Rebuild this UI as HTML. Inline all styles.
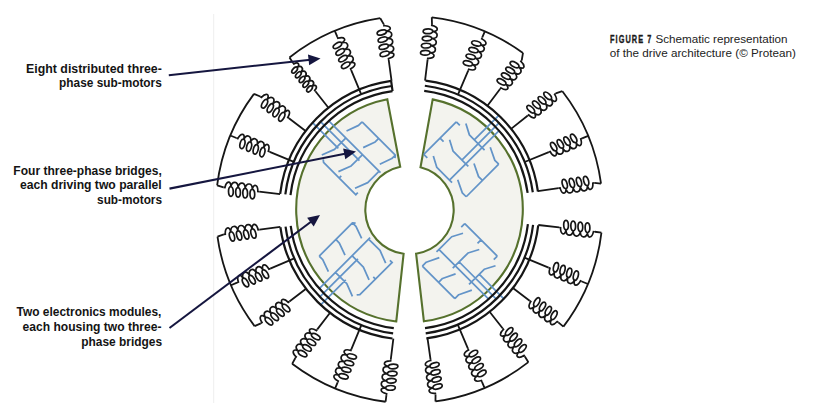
<!DOCTYPE html>
<html><head><meta charset="utf-8"><style>
html,body{margin:0;padding:0;background:#fff;}
body{width:820px;height:414px;overflow:hidden;position:relative;}
svg{position:absolute;left:0;top:0;}
.dg{filter:blur(0.3px);}
.lb{font-family:"Liberation Sans",sans-serif;font-weight:bold;font-size:13.2px;fill:#141414;}
.cp{font-family:"Liberation Sans",sans-serif;font-size:10.6px;fill:#222;}
.cpb{font-family:"Liberation Sans",sans-serif;font-weight:bold;font-size:10.8px;fill:#1a1a1a;stroke:#1a1a1a;stroke-width:0.35px;}
</style></head><body>
<svg width="820" height="414" viewBox="0 0 820 414">
<g class="dg">
<line x1="213.6" y1="14" x2="213.6" y2="403" stroke="#f1f1f1" stroke-width="1.2"/>
<path d="M387.3,99.18 A113.3,112.6 0 0 0 396.28,321.43 L403.6,253.8 A44.2,44.2 0 0 1 400.2,166.79 Z" fill="#f3f3ee" stroke="#56712d" stroke-width="2.1" stroke-linejoin="miter"/>
<path d="M432.67,99.38 A113.3,112.6 0 0 1 423.9,321.29 L416.1,253.7 A44.2,44.2 0 0 0 420.5,167.19 Z" fill="#f3f3ee" stroke="#56712d" stroke-width="2.1" stroke-linejoin="miter"/>
<path d="M362.1,121.8 L395.33,155.03 L394.98,158.22 M362.1,121.8 L358.56,125.34 L346.54,130.99 M378.72,138.42 L375.18,141.95 L363.16,147.61 M395.33,155.03 L391.8,158.57 L379.78,164.23 M346.19,137.71 L334.52,149.38 L321.8,155.03 M362.81,154.33 L351.14,165.99 L338.41,171.65 M379.42,170.94 L367.76,182.61 L355.03,188.27 M323.21,159.28 L323.56,162.46 L356.44,195.34 M339.12,178.01 L341.24,175.89 M355.74,194.63 L357.86,192.51 M380.48,172.71 L328.25,120.48 M359.41,160.55 L320.02,121.16 M338.34,148.39 L312.01,122.06" fill="none" stroke="#6394c8" stroke-width="1.75" stroke-linecap="butt" stroke-linejoin="round"/>
<path d="M319.2,256.1 L352.43,222.87 L355.62,223.22 M319.2,256.1 L322.74,259.64 L328.39,271.66 M335.82,239.48 L339.35,243.02 L345.01,255.04 M352.43,222.87 L355.97,226.4 L361.63,238.42 M335.11,272.01 L346.78,283.68 L352.43,296.4 M351.73,255.39 L363.39,267.06 L369.05,279.79 M368.34,238.78 L380.01,250.44 L385.67,263.17 M356.68,294.99 L359.86,294.64 L392.74,261.76 M375.41,279.08 L373.29,276.96 M392.03,262.46 L389.91,260.34 M370.11,237.72 L318.75,289.07 M357.95,258.79 L319.36,297.37 M345.79,279.86 L320.2,305.45" fill="none" stroke="#6394c8" stroke-width="1.75" stroke-linecap="butt" stroke-linejoin="round"/>
<path d="M456.3,121.8 L423.77,154.33 M456.3,121.8 L459.84,125.34 M465.85,123.57 L469.38,134.88 L481.76,147.26 M440.04,138.06 L443.57,141.6 M449.58,139.83 L453.12,151.14 L465.49,163.52 M423.77,154.33 L427.31,157.86 M433.32,156.09 L436.85,167.41 L449.23,179.78 M481.76,147.26 L484.58,150.08 M490.24,147.26 L494.84,160.34 L498.73,164.23 M465.49,163.52 L468.32,166.35 M473.98,163.52 L478.57,176.6 L482.46,180.49 M449.23,179.78 L452.06,182.61 M457.71,179.78 L462.31,192.86 L466.2,196.75 M498.73,164.23 L466.2,196.75 M449.23,180.49 L499.62,130.1 M461.6,160.34 L499.57,122.37 M473.98,140.18 L499.34,114.82" fill="none" stroke="#6394c8" stroke-width="1.75" stroke-linecap="butt" stroke-linejoin="round"/>
<path d="M497.3,256.2 L464.77,223.67 M497.3,256.2 L493.76,259.74 M495.53,265.75 L484.22,269.28 L471.84,281.66 M481.04,239.94 L477.5,243.47 M479.27,249.48 L467.96,253.02 L455.58,265.39 M464.77,223.67 L461.24,227.21 M463.01,233.22 L451.69,236.75 L439.32,249.13 M471.84,281.66 L469.02,284.48 M471.84,290.14 L458.76,294.74 L454.87,298.63 M455.58,265.39 L452.75,268.22 M455.58,273.88 L442.5,278.47 L438.61,282.36 M439.32,249.13 L436.49,251.96 M439.32,257.61 L426.24,262.21 L422.35,266.1 M454.87,298.63 L422.35,266.1 M438.61,249.13 L489.13,299.64 M458.76,261.5 L496.83,299.58 M478.92,273.88 L504.37,299.33" fill="none" stroke="#6394c8" stroke-width="1.75" stroke-linecap="butt" stroke-linejoin="round"/>
<path d="M392.55,91.16 A119.6,119.6 0 0 0 290.49,195.02 M391.83,86.01 A124.8,124.8 0 0 0 285.33,194.39 M391.11,80.87 A130,130 0 0 0 280.17,193.76 M290.71,225.83 A119.6,119.6 0 0 0 393.8,328.2 M285.55,226.54 A124.8,124.8 0 0 0 393.13,333.36 M280.4,227.24 A130,130 0 0 0 392.46,338.52 M424.19,90.94 A119.6,119.6 0 0 1 527.64,192.95 M424.84,85.78 A124.8,124.8 0 0 1 532.79,192.23 M425.49,80.63 A130,130 0 0 1 537.93,191.51 M527.91,224.18 A119.6,119.6 0 0 1 425.02,328.15 M533.07,224.81 A124.8,124.8 0 0 1 425.71,333.3 M538.23,225.44 A130,130 0 0 1 426.39,338.46 M392.55,91.16 L391.11,80.87" fill="none" stroke="#161616" stroke-width="2.2"/>
<path d="M289.48,57.46 A193.6,193.6 0 0 1 380.25,18.18 M289.48,57.46 L293.05,63.05 M315.41,91.26 L328.45,107.72 M334.8,30.87 L337.34,36.96 M351.17,70.2 L361.24,94.38 M380.25,18.18 L383.82,24.33 M388.71,60 L391.56,80.8 M253.98,93.9 A193.6,193.6 0 0 0 217.13,185.34 M253.98,93.9 L260.25,96.54 M288.92,118.31 L305.65,131 M230.34,135.51 L236.43,138.04 M269.69,151.81 L293.9,161.84 M217.13,185.34 L223.52,187.46 M259.26,191.72 L280.11,194.21 M217.48,236.54 A193.6,193.6 0 0 0 254.58,326.11 M217.48,236.54 L223.84,234.33 M259.53,229.57 L280.34,226.79 M230.99,285.25 L237.07,282.67 M270.2,268.6 L294.32,258.36 M254.58,326.11 L260.84,323.44 M289.4,301.52 L306.06,288.74 M292.15,363.81 A193.6,193.6 0 0 0 385.61,401.76 M292.15,363.81 L295.36,357.96 M317.28,329.4 L330.06,312.74 M335.11,388.46 L337.64,382.37 M351.41,349.11 L361.44,324.9 M385.61,401.76 L386.41,395.21 M390.8,359.47 L393.36,338.63 M431.79,17.32 A193.6,193.6 0 0 1 523,52.97 M431.79,17.32 L431.99,23.99 M427.6,59.73 L425.04,80.57 M484.85,31.39 L482.27,37.47 M468.2,70.6 L457.96,94.72 M523,52.97 L521.74,60.26 M500.07,89.01 L487.44,105.78 M562.38,91.21 A193.6,193.6 0 0 1 601.05,183.66 M562.38,91.21 L555.75,93.45 M527.54,115.81 L511.08,128.85 M588.19,135.82 L582.09,138.34 M548.81,152.06 L524.58,162.04 M601.05,183.66 L594.29,182.93 M558.66,188.06 L537.87,191.06 M601.44,232.52 A193.6,193.6 0 0 1 563.41,326.65 M601.44,232.52 L594.88,231.74 M559.14,227.48 L538.29,224.99 M587.93,284 L581.84,281.46 M548.6,267.63 L524.42,257.56 M563.41,326.65 L558.35,322.4 M529.64,300.68 L512.89,288.02 M528.39,362.16 A193.6,193.6 0 0 1 435.47,401.41 M528.39,362.16 L524.84,356.56 M502.58,328.26 L489.59,311.76 M484.53,387.94 L481.97,381.86 M467.96,348.7 L457.76,324.56 M435.47,401.41 L435.55,394.73 M430.48,359.09 L427.52,338.3" fill="none" stroke="#161616" stroke-width="1.8" stroke-linejoin="round"/>
<g fill="none" stroke="#161616" stroke-width="1.7"><path transform="translate(293.05,63.05) rotate(51.6)" d="M0,0 L1.2,0 C1.8,-4.59 5.4,-5.4 6,-0.5 C8.66,-0.5 9.66,6.8 7,6.8 C4.34,6.8 3.34,-0.5 6,-0.5 C6.6,-5.4 11.4,-5.4 12,-0.5 C14.66,-0.5 15.66,6.8 13,6.8 C10.34,6.8 9.34,-0.5 12,-0.5 C12.6,-5.4 17.4,-5.4 18,-0.5 C20.66,-0.5 21.66,6.8 19,6.8 C16.34,6.8 15.34,-0.5 18,-0.5 C18.6,-5.4 23.4,-5.4 24,-0.5 C26.66,-0.5 27.66,6.8 25,6.8 C22.34,6.8 21.34,-0.5 24,-0.5 C24.6,-5.4 29.4,-5.4 30,-0.5 C32.66,-0.5 33.66,6.8 31,6.8 C28.34,6.8 27.34,-0.5 30,-0.5 C30.6,-5.4 34.2,-4.59 34.8,0 L36,0"/><path transform="translate(337.34,36.96) rotate(67.4)" d="M0,0 L1.44,0 C2.04,-6.88 6.6,-8.1 7.2,-1.6 C10.39,-1.6 11.59,7.9 8.4,7.9 C5.21,7.9 4.01,-1.6 7.2,-1.6 C7.8,-8.1 13.8,-8.1 14.4,-1.6 C17.59,-1.6 18.79,7.9 15.6,7.9 C12.41,7.9 11.21,-1.6 14.4,-1.6 C15,-8.1 21,-8.1 21.6,-1.6 C24.79,-1.6 25.99,7.9 22.8,7.9 C19.61,7.9 18.41,-1.6 21.6,-1.6 C22.2,-8.1 28.2,-8.1 28.8,-1.6 C31.99,-1.6 33.19,7.9 30,7.9 C26.81,7.9 25.61,-1.6 28.8,-1.6 C29.4,-8.1 33.96,-6.88 34.56,0 L36,0"/><path transform="translate(383.82,24.33) rotate(82.2)" d="M0,0 L1.44,0 C2.04,-6.88 6.6,-8.1 7.2,-1.6 C10.39,-1.6 11.59,7.9 8.4,7.9 C5.21,7.9 4.01,-1.6 7.2,-1.6 C7.8,-8.1 13.8,-8.1 14.4,-1.6 C17.59,-1.6 18.79,7.9 15.6,7.9 C12.41,7.9 11.21,-1.6 14.4,-1.6 C15,-8.1 21,-8.1 21.6,-1.6 C24.79,-1.6 25.99,7.9 22.8,7.9 C19.61,7.9 18.41,-1.6 21.6,-1.6 C22.2,-8.1 28.2,-8.1 28.8,-1.6 C31.99,-1.6 33.19,7.9 30,7.9 C26.81,7.9 25.61,-1.6 28.8,-1.6 C29.4,-8.1 33.96,-6.88 34.56,0 L36,0"/><path transform="translate(260.25,96.54) rotate(37.2)" d="M0,0 L1.44,0 C2.04,-6.88 6.6,-8.1 7.2,-1.6 C10.39,-1.6 11.59,7.9 8.4,7.9 C5.21,7.9 4.01,-1.6 7.2,-1.6 C7.8,-8.1 13.8,-8.1 14.4,-1.6 C17.59,-1.6 18.79,7.9 15.6,7.9 C12.41,7.9 11.21,-1.6 14.4,-1.6 C15,-8.1 21,-8.1 21.6,-1.6 C24.79,-1.6 25.99,7.9 22.8,7.9 C19.61,7.9 18.41,-1.6 21.6,-1.6 C22.2,-8.1 28.2,-8.1 28.8,-1.6 C31.99,-1.6 33.19,7.9 30,7.9 C26.81,7.9 25.61,-1.6 28.8,-1.6 C29.4,-8.1 33.96,-6.88 34.56,0 L36,0"/><path transform="translate(236.43,138.04) rotate(22.5)" d="M0,0 L1.44,0 C2.04,-6.88 6.6,-8.1 7.2,-1.6 C10.39,-1.6 11.59,7.9 8.4,7.9 C5.21,7.9 4.01,-1.6 7.2,-1.6 C7.8,-8.1 13.8,-8.1 14.4,-1.6 C17.59,-1.6 18.79,7.9 15.6,7.9 C12.41,7.9 11.21,-1.6 14.4,-1.6 C15,-8.1 21,-8.1 21.6,-1.6 C24.79,-1.6 25.99,7.9 22.8,7.9 C19.61,7.9 18.41,-1.6 21.6,-1.6 C22.2,-8.1 28.2,-8.1 28.8,-1.6 C31.99,-1.6 33.19,7.9 30,7.9 C26.81,7.9 25.61,-1.6 28.8,-1.6 C29.4,-8.1 33.96,-6.88 34.56,0 L36,0"/><path transform="translate(223.52,187.46) rotate(6.8)" d="M0,0 L1.44,0 C2.04,-6.88 6.6,-8.1 7.2,-1.6 C10.39,-1.6 11.59,7.9 8.4,7.9 C5.21,7.9 4.01,-1.6 7.2,-1.6 C7.8,-8.1 13.8,-8.1 14.4,-1.6 C17.59,-1.6 18.79,7.9 15.6,7.9 C12.41,7.9 11.21,-1.6 14.4,-1.6 C15,-8.1 21,-8.1 21.6,-1.6 C24.79,-1.6 25.99,7.9 22.8,7.9 C19.61,7.9 18.41,-1.6 21.6,-1.6 C22.2,-8.1 28.2,-8.1 28.8,-1.6 C31.99,-1.6 33.19,7.9 30,7.9 C26.81,7.9 25.61,-1.6 28.8,-1.6 C29.4,-8.1 33.96,-6.88 34.56,0 L36,0"/><path transform="translate(223.84,234.33) rotate(-7.6)" d="M0,0 L1.44,0 C2.04,-6.88 6.6,-8.1 7.2,-1.6 C10.39,-1.6 11.59,7.9 8.4,7.9 C5.21,7.9 4.01,-1.6 7.2,-1.6 C7.8,-8.1 13.8,-8.1 14.4,-1.6 C17.59,-1.6 18.79,7.9 15.6,7.9 C12.41,7.9 11.21,-1.6 14.4,-1.6 C15,-8.1 21,-8.1 21.6,-1.6 C24.79,-1.6 25.99,7.9 22.8,7.9 C19.61,7.9 18.41,-1.6 21.6,-1.6 C22.2,-8.1 28.2,-8.1 28.8,-1.6 C31.99,-1.6 33.19,7.9 30,7.9 C26.81,7.9 25.61,-1.6 28.8,-1.6 C29.4,-8.1 33.96,-6.88 34.56,0 L36,0"/><path transform="translate(237.07,282.67) rotate(-23)" d="M0,0 L1.44,0 C2.04,-6.88 6.6,-8.1 7.2,-1.6 C10.39,-1.6 11.59,7.9 8.4,7.9 C5.21,7.9 4.01,-1.6 7.2,-1.6 C7.8,-8.1 13.8,-8.1 14.4,-1.6 C17.59,-1.6 18.79,7.9 15.6,7.9 C12.41,7.9 11.21,-1.6 14.4,-1.6 C15,-8.1 21,-8.1 21.6,-1.6 C24.79,-1.6 25.99,7.9 22.8,7.9 C19.61,7.9 18.41,-1.6 21.6,-1.6 C22.2,-8.1 28.2,-8.1 28.8,-1.6 C31.99,-1.6 33.19,7.9 30,7.9 C26.81,7.9 25.61,-1.6 28.8,-1.6 C29.4,-8.1 33.96,-6.88 34.56,0 L36,0"/><path transform="translate(260.84,323.44) rotate(-37.5)" d="M0,0 L1.44,0 C2.04,-6.88 6.6,-8.1 7.2,-1.6 C10.39,-1.6 11.59,7.9 8.4,7.9 C5.21,7.9 4.01,-1.6 7.2,-1.6 C7.8,-8.1 13.8,-8.1 14.4,-1.6 C17.59,-1.6 18.79,7.9 15.6,7.9 C12.41,7.9 11.21,-1.6 14.4,-1.6 C15,-8.1 21,-8.1 21.6,-1.6 C24.79,-1.6 25.99,7.9 22.8,7.9 C19.61,7.9 18.41,-1.6 21.6,-1.6 C22.2,-8.1 28.2,-8.1 28.8,-1.6 C31.99,-1.6 33.19,7.9 30,7.9 C26.81,7.9 25.61,-1.6 28.8,-1.6 C29.4,-8.1 33.96,-6.88 34.56,0 L36,0"/><path transform="translate(295.36,357.96) rotate(-52.5)" d="M0,0 L1.44,0 C2.04,-6.88 6.6,-8.1 7.2,-1.6 C10.39,-1.6 11.59,7.9 8.4,7.9 C5.21,7.9 4.01,-1.6 7.2,-1.6 C7.8,-8.1 13.8,-8.1 14.4,-1.6 C17.59,-1.6 18.79,7.9 15.6,7.9 C12.41,7.9 11.21,-1.6 14.4,-1.6 C15,-8.1 21,-8.1 21.6,-1.6 C24.79,-1.6 25.99,7.9 22.8,7.9 C19.61,7.9 18.41,-1.6 21.6,-1.6 C22.2,-8.1 28.2,-8.1 28.8,-1.6 C31.99,-1.6 33.19,7.9 30,7.9 C26.81,7.9 25.61,-1.6 28.8,-1.6 C29.4,-8.1 33.96,-6.88 34.56,0 L36,0"/><path transform="translate(337.64,382.37) rotate(-67.5)" d="M0,0 L1.44,0 C2.04,-6.88 6.6,-8.1 7.2,-1.6 C10.39,-1.6 11.59,7.9 8.4,7.9 C5.21,7.9 4.01,-1.6 7.2,-1.6 C7.8,-8.1 13.8,-8.1 14.4,-1.6 C17.59,-1.6 18.79,7.9 15.6,7.9 C12.41,7.9 11.21,-1.6 14.4,-1.6 C15,-8.1 21,-8.1 21.6,-1.6 C24.79,-1.6 25.99,7.9 22.8,7.9 C19.61,7.9 18.41,-1.6 21.6,-1.6 C22.2,-8.1 28.2,-8.1 28.8,-1.6 C31.99,-1.6 33.19,7.9 30,7.9 C26.81,7.9 25.61,-1.6 28.8,-1.6 C29.4,-8.1 33.96,-6.88 34.56,0 L36,0"/><path transform="translate(386.41,395.21) rotate(-83)" d="M0,0 L1.44,0 C2.04,-6.88 6.6,-8.1 7.2,-1.6 C10.39,-1.6 11.59,7.9 8.4,7.9 C5.21,7.9 4.01,-1.6 7.2,-1.6 C7.8,-8.1 13.8,-8.1 14.4,-1.6 C17.59,-1.6 18.79,7.9 15.6,7.9 C12.41,7.9 11.21,-1.6 14.4,-1.6 C15,-8.1 21,-8.1 21.6,-1.6 C24.79,-1.6 25.99,7.9 22.8,7.9 C19.61,7.9 18.41,-1.6 21.6,-1.6 C22.2,-8.1 28.2,-8.1 28.8,-1.6 C31.99,-1.6 33.19,7.9 30,7.9 C26.81,7.9 25.61,-1.6 28.8,-1.6 C29.4,-8.1 33.96,-6.88 34.56,0 L36,0"/><path transform="translate(431.99,23.99) rotate(97)" d="M0,0 L1.44,0 C2.04,-6.88 6.6,-8.1 7.2,-1.6 C10.39,-1.6 11.59,7.9 8.4,7.9 C5.21,7.9 4.01,-1.6 7.2,-1.6 C7.8,-8.1 13.8,-8.1 14.4,-1.6 C17.59,-1.6 18.79,7.9 15.6,7.9 C12.41,7.9 11.21,-1.6 14.4,-1.6 C15,-8.1 21,-8.1 21.6,-1.6 C24.79,-1.6 25.99,7.9 22.8,7.9 C19.61,7.9 18.41,-1.6 21.6,-1.6 C22.2,-8.1 28.2,-8.1 28.8,-1.6 C31.99,-1.6 33.19,7.9 30,7.9 C26.81,7.9 25.61,-1.6 28.8,-1.6 C29.4,-8.1 33.96,-6.88 34.56,0 L36,0"/><path transform="translate(482.27,37.47) rotate(113)" d="M0,0 L1.44,0 C2.04,-6.88 6.6,-8.1 7.2,-1.6 C10.39,-1.6 11.59,7.9 8.4,7.9 C5.21,7.9 4.01,-1.6 7.2,-1.6 C7.8,-8.1 13.8,-8.1 14.4,-1.6 C17.59,-1.6 18.79,7.9 15.6,7.9 C12.41,7.9 11.21,-1.6 14.4,-1.6 C15,-8.1 21,-8.1 21.6,-1.6 C24.79,-1.6 25.99,7.9 22.8,7.9 C19.61,7.9 18.41,-1.6 21.6,-1.6 C22.2,-8.1 28.2,-8.1 28.8,-1.6 C31.99,-1.6 33.19,7.9 30,7.9 C26.81,7.9 25.61,-1.6 28.8,-1.6 C29.4,-8.1 33.96,-6.88 34.56,0 L36,0"/><path transform="translate(521.74,60.26) rotate(127)" d="M0,0 L1.44,0 C2.04,-6.88 6.6,-8.1 7.2,-1.6 C10.39,-1.6 11.59,7.9 8.4,7.9 C5.21,7.9 4.01,-1.6 7.2,-1.6 C7.8,-8.1 13.8,-8.1 14.4,-1.6 C17.59,-1.6 18.79,7.9 15.6,7.9 C12.41,7.9 11.21,-1.6 14.4,-1.6 C15,-8.1 21,-8.1 21.6,-1.6 C24.79,-1.6 25.99,7.9 22.8,7.9 C19.61,7.9 18.41,-1.6 21.6,-1.6 C22.2,-8.1 28.2,-8.1 28.8,-1.6 C31.99,-1.6 33.19,7.9 30,7.9 C26.81,7.9 25.61,-1.6 28.8,-1.6 C29.4,-8.1 33.96,-6.88 34.56,0 L36,0"/><path transform="translate(555.75,93.45) rotate(141.6)" d="M0,0 L1.44,0 C2.04,-6.88 6.6,-8.1 7.2,-1.6 C10.39,-1.6 11.59,7.9 8.4,7.9 C5.21,7.9 4.01,-1.6 7.2,-1.6 C7.8,-8.1 13.8,-8.1 14.4,-1.6 C17.59,-1.6 18.79,7.9 15.6,7.9 C12.41,7.9 11.21,-1.6 14.4,-1.6 C15,-8.1 21,-8.1 21.6,-1.6 C24.79,-1.6 25.99,7.9 22.8,7.9 C19.61,7.9 18.41,-1.6 21.6,-1.6 C22.2,-8.1 28.2,-8.1 28.8,-1.6 C31.99,-1.6 33.19,7.9 30,7.9 C26.81,7.9 25.61,-1.6 28.8,-1.6 C29.4,-8.1 33.96,-6.88 34.56,0 L36,0"/><path transform="translate(582.09,138.34) rotate(157.6)" d="M0,0 L1.44,0 C2.04,-6.88 6.6,-8.1 7.2,-1.6 C10.39,-1.6 11.59,7.9 8.4,7.9 C5.21,7.9 4.01,-1.6 7.2,-1.6 C7.8,-8.1 13.8,-8.1 14.4,-1.6 C17.59,-1.6 18.79,7.9 15.6,7.9 C12.41,7.9 11.21,-1.6 14.4,-1.6 C15,-8.1 21,-8.1 21.6,-1.6 C24.79,-1.6 25.99,7.9 22.8,7.9 C19.61,7.9 18.41,-1.6 21.6,-1.6 C22.2,-8.1 28.2,-8.1 28.8,-1.6 C31.99,-1.6 33.19,7.9 30,7.9 C26.81,7.9 25.61,-1.6 28.8,-1.6 C29.4,-8.1 33.96,-6.88 34.56,0 L36,0"/><path transform="translate(594.29,182.93) rotate(171.8)" d="M0,0 L1.44,0 C2.04,-6.88 6.6,-8.1 7.2,-1.6 C10.39,-1.6 11.59,7.9 8.4,7.9 C5.21,7.9 4.01,-1.6 7.2,-1.6 C7.8,-8.1 13.8,-8.1 14.4,-1.6 C17.59,-1.6 18.79,7.9 15.6,7.9 C12.41,7.9 11.21,-1.6 14.4,-1.6 C15,-8.1 21,-8.1 21.6,-1.6 C24.79,-1.6 25.99,7.9 22.8,7.9 C19.61,7.9 18.41,-1.6 21.6,-1.6 C22.2,-8.1 28.2,-8.1 28.8,-1.6 C31.99,-1.6 33.19,7.9 30,7.9 C26.81,7.9 25.61,-1.6 28.8,-1.6 C29.4,-8.1 33.96,-6.88 34.56,0 L36,0"/><path transform="translate(594.88,231.74) rotate(186.8)" d="M0,0 L1.44,0 C2.04,-6.88 6.6,-8.1 7.2,-1.6 C10.39,-1.6 11.59,7.9 8.4,7.9 C5.21,7.9 4.01,-1.6 7.2,-1.6 C7.8,-8.1 13.8,-8.1 14.4,-1.6 C17.59,-1.6 18.79,7.9 15.6,7.9 C12.41,7.9 11.21,-1.6 14.4,-1.6 C15,-8.1 21,-8.1 21.6,-1.6 C24.79,-1.6 25.99,7.9 22.8,7.9 C19.61,7.9 18.41,-1.6 21.6,-1.6 C22.2,-8.1 28.2,-8.1 28.8,-1.6 C31.99,-1.6 33.19,7.9 30,7.9 C26.81,7.9 25.61,-1.6 28.8,-1.6 C29.4,-8.1 33.96,-6.88 34.56,0 L36,0"/><path transform="translate(581.84,281.46) rotate(202.6)" d="M0,0 L1.44,0 C2.04,-6.88 6.6,-8.1 7.2,-1.6 C10.39,-1.6 11.59,7.9 8.4,7.9 C5.21,7.9 4.01,-1.6 7.2,-1.6 C7.8,-8.1 13.8,-8.1 14.4,-1.6 C17.59,-1.6 18.79,7.9 15.6,7.9 C12.41,7.9 11.21,-1.6 14.4,-1.6 C15,-8.1 21,-8.1 21.6,-1.6 C24.79,-1.6 25.99,7.9 22.8,7.9 C19.61,7.9 18.41,-1.6 21.6,-1.6 C22.2,-8.1 28.2,-8.1 28.8,-1.6 C31.99,-1.6 33.19,7.9 30,7.9 C26.81,7.9 25.61,-1.6 28.8,-1.6 C29.4,-8.1 33.96,-6.88 34.56,0 L36,0"/><path transform="translate(558.35,322.4) rotate(217.1)" d="M0,0 L1.44,0 C2.04,-6.88 6.6,-8.1 7.2,-1.6 C10.39,-1.6 11.59,7.9 8.4,7.9 C5.21,7.9 4.01,-1.6 7.2,-1.6 C7.8,-8.1 13.8,-8.1 14.4,-1.6 C17.59,-1.6 18.79,7.9 15.6,7.9 C12.41,7.9 11.21,-1.6 14.4,-1.6 C15,-8.1 21,-8.1 21.6,-1.6 C24.79,-1.6 25.99,7.9 22.8,7.9 C19.61,7.9 18.41,-1.6 21.6,-1.6 C22.2,-8.1 28.2,-8.1 28.8,-1.6 C31.99,-1.6 33.19,7.9 30,7.9 C26.81,7.9 25.61,-1.6 28.8,-1.6 C29.4,-8.1 33.96,-6.88 34.56,0 L36,0"/><path transform="translate(524.84,356.56) rotate(231.8)" d="M0,0 L1.44,0 C2.04,-6.88 6.6,-8.1 7.2,-1.6 C10.39,-1.6 11.59,7.9 8.4,7.9 C5.21,7.9 4.01,-1.6 7.2,-1.6 C7.8,-8.1 13.8,-8.1 14.4,-1.6 C17.59,-1.6 18.79,7.9 15.6,7.9 C12.41,7.9 11.21,-1.6 14.4,-1.6 C15,-8.1 21,-8.1 21.6,-1.6 C24.79,-1.6 25.99,7.9 22.8,7.9 C19.61,7.9 18.41,-1.6 21.6,-1.6 C22.2,-8.1 28.2,-8.1 28.8,-1.6 C31.99,-1.6 33.19,7.9 30,7.9 C26.81,7.9 25.61,-1.6 28.8,-1.6 C29.4,-8.1 33.96,-6.88 34.56,0 L36,0"/><path transform="translate(481.97,381.86) rotate(247.1)" d="M0,0 L1.44,0 C2.04,-6.88 6.6,-8.1 7.2,-1.6 C10.39,-1.6 11.59,7.9 8.4,7.9 C5.21,7.9 4.01,-1.6 7.2,-1.6 C7.8,-8.1 13.8,-8.1 14.4,-1.6 C17.59,-1.6 18.79,7.9 15.6,7.9 C12.41,7.9 11.21,-1.6 14.4,-1.6 C15,-8.1 21,-8.1 21.6,-1.6 C24.79,-1.6 25.99,7.9 22.8,7.9 C19.61,7.9 18.41,-1.6 21.6,-1.6 C22.2,-8.1 28.2,-8.1 28.8,-1.6 C31.99,-1.6 33.19,7.9 30,7.9 C26.81,7.9 25.61,-1.6 28.8,-1.6 C29.4,-8.1 33.96,-6.88 34.56,0 L36,0"/><path transform="translate(435.55,394.73) rotate(261.9)" d="M0,0 L1.44,0 C2.04,-6.88 6.6,-8.1 7.2,-1.6 C10.39,-1.6 11.59,7.9 8.4,7.9 C5.21,7.9 4.01,-1.6 7.2,-1.6 C7.8,-8.1 13.8,-8.1 14.4,-1.6 C17.59,-1.6 18.79,7.9 15.6,7.9 C12.41,7.9 11.21,-1.6 14.4,-1.6 C15,-8.1 21,-8.1 21.6,-1.6 C24.79,-1.6 25.99,7.9 22.8,7.9 C19.61,7.9 18.41,-1.6 21.6,-1.6 C22.2,-8.1 28.2,-8.1 28.8,-1.6 C31.99,-1.6 33.19,7.9 30,7.9 C26.81,7.9 25.61,-1.6 28.8,-1.6 C29.4,-8.1 33.96,-6.88 34.56,0 L36,0"/></g>
<line x1="168.8" y1="75.2" x2="310.56" y2="59.69" stroke="#15163f" stroke-width="2.1"/><path d="M320.5,58.6 L309.17,65.37 L307.97,54.44 Z" fill="#15163f"/>
<line x1="169.5" y1="188.6" x2="346.19" y2="153.55" stroke="#15163f" stroke-width="2.1"/><path d="M356,151.6 L345.3,159.33 L343.16,148.54 Z" fill="#15163f"/>
<line x1="169.5" y1="328" x2="312" y2="221" stroke="#15163f" stroke-width="2.1"/><path d="M320,215 L313.71,226.6 L307.1,217.81 Z" fill="#15163f"/>
</g>
<text class="lb" x="26.11" y="72.8" textLength="135.71" lengthAdjust="spacingAndGlyphs">Eight distributed three-</text>
<text class="lb" x="59.11" y="86.9" textLength="102.68" lengthAdjust="spacingAndGlyphs">phase sub-motors</text>
<text class="lb" x="13.36" y="174.7" textLength="148.43" lengthAdjust="spacingAndGlyphs">Four three-phase bridges,</text>
<text class="lb" x="19.9" y="189.4" textLength="141.84" lengthAdjust="spacingAndGlyphs">each driving two parallel</text>
<text class="lb" x="97.08" y="204.3" textLength="64.96" lengthAdjust="spacingAndGlyphs">sub-motors</text>
<text class="lb" x="16.62" y="316.3" textLength="144.74" lengthAdjust="spacingAndGlyphs">Two electronics modules,</text>
<text class="lb" x="22.53" y="330.9" textLength="138.99" lengthAdjust="spacingAndGlyphs">each housing two three-</text>
<text class="lb" x="81.29" y="345.6" textLength="80.78" lengthAdjust="spacingAndGlyphs">phase bridges</text>
<text class="cpb" transform="translate(610.02,42.5) scale(0.68,1)" x="0" y="0" textLength="60.88" lengthAdjust="spacing">FIGURE 7</text>
<text class="cp" x="655.45" y="42.5" textLength="132.07" lengthAdjust="spacingAndGlyphs">Schematic representation</text>
<text class="cp" x="609.83" y="57.4" textLength="186.03" lengthAdjust="spacingAndGlyphs">of the drive architecture (© Protean)</text>
</svg>
</body></html>
